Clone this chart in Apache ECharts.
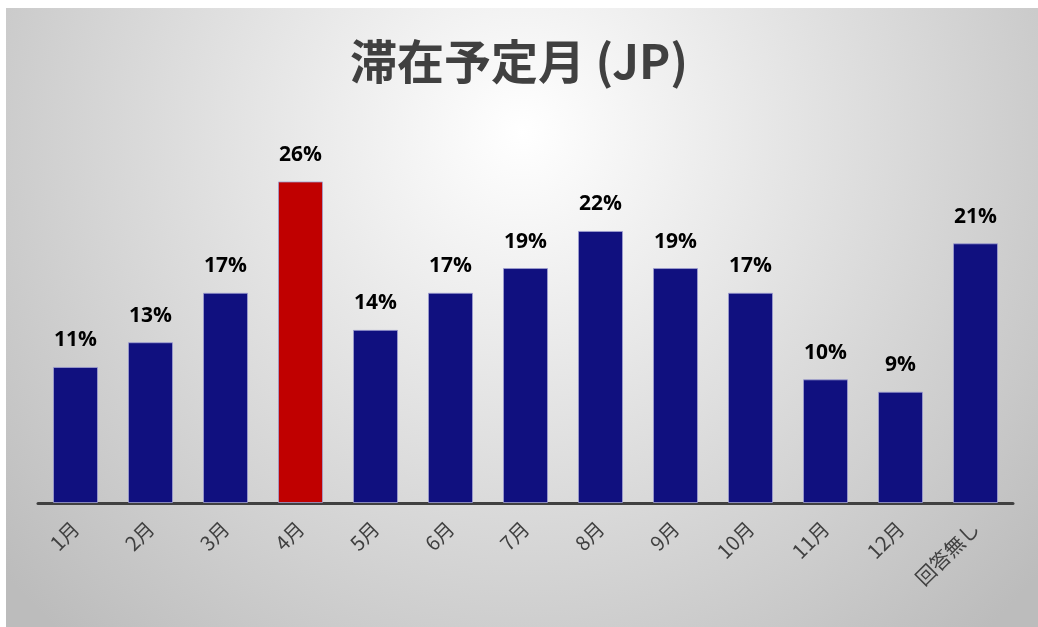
<!DOCTYPE html>
<html>
<head>
<meta charset="utf-8">
<script src="https://cdn.jsdelivr.net/npm/echarts@6/dist/echarts.min.js"></script>
<style>
  html, body { margin: 0; padding: 0; background: #ffffff; }
  #chart { width: 1038px; height: 627px; }
</style>
</head>
<body>
<div id="chart"></div>
<script>
// 滞在予定月 (JP)
const months = ["1月", "2月", "3月", "4月", "5月", "6月", "7月", "8月", "9月", "10月", "11月", "12月", "回答無し"];
const shares = [11, 13, 17, 26, 14, 17, 19, 22, 19, 17, 10, 9, 21];
const highlight = "4月";

const navy = "#10107f";
const red = "#c00000";

const chart = echarts.init(document.getElementById("chart"));

chart.setOption({
  animation: false,
  graphic: [
    {
      type: "rect",
      z: -10,
      silent: true,
      shape: { x: 6, y: 8, width: 1032, height: 619 },
      style: {
        fill: new echarts.graphic.RadialGradient(0.5, 0.2, 1.1, [
          { offset: 0, color: "#ffffff" },
          { offset: 1, color: "#bcbcbc" }
        ])
      }
    }
  ],
  title: {
    text: "滞在予定月 (JP)",
    left: "center",
    top: 33,
    textStyle: {
      fontFamily: "Noto Sans CJK JP",
      fontSize: 47,
      fontWeight: "bold",
      color: "#404040"
    }
  },
  grid: { left: 38, right: 25, top: 132, bottom: 124 },
  xAxis: {
    type: "category",
    data: months,
    axisLine: { lineStyle: { color: "#404040", width: 3 } },
    axisTick: { show: false },
    axisLabel: {
      rotate: 45,
      margin: 22,
      color: "#404040",
      fontSize: 20,
      fontFamily: "Noto Sans CJK JP"
    }
  },
  yAxis: {
    type: "value",
    min: 0,
    max: 30,
    show: false,
    splitLine: { show: false }
  },
  series: [
    {
      type: "bar",
      barWidth: "60%",
      data: shares.map((v, i) => ({
        value: v,
        itemStyle: { color: months[i] === highlight ? red : navy }
      })),
      itemStyle: { borderColor: "rgba(160,160,210,0.8)", borderWidth: 1 },
      label: {
        show: true,
        position: "top",
        distance: 16,
        formatter: "{c}%",
        color: "#000000",
        fontSize: 21,
        fontWeight: "bold",
        fontFamily: "Open Sans"
      }
    }
  ]
});
</script>
</body>
</html>
